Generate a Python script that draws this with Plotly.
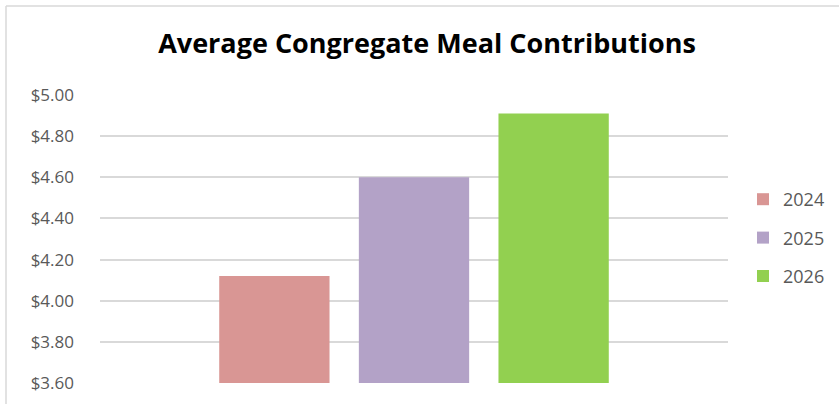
import plotly.graph_objects as go

title_text = "Average Congregate Meal Contributions"
years = ["2024", "2025", "2026"]
values = [4.12, 4.60, 4.91]
colors = ["#d99694", "#b3a2c7", "#92d050"]
tick_vals = [3.60, 3.80, 4.00, 4.20, 4.40, 4.60, 4.80, 5.00]
tick_text = ["$3.60", "$3.80", "$4.00", "$4.20", "$4.40", "$4.60", "$4.80", "$5.00"]

FONT = "Open Sans"

fig = go.Figure()
for yr, v, c in zip(years, values, colors):
    fig.add_trace(go.Bar(
        x=[""], y=[v], name=yr, marker=dict(color=c, line=dict(width=0)),
        legendgroup=yr,
    ))

W, H = 839, 404
L, R, T, B = 100, 111, 95, 21
pw, ph = W - L - R, H - T - B

def px_x(p):
    return (p - L) / pw

def px_y(p):
    return (H - B - p) / ph

fig.update_layout(
    width=W, height=H,
    margin=dict(l=L, r=R, t=T, b=B, autoexpand=False),
    paper_bgcolor="white", plot_bgcolor="white",
    barmode="group", bargap=0.333, bargroupgap=0.21,
    title=dict(text="<b>" + title_text + "</b>", x=427 / W, xanchor="center",
               y=1 - 44 / H, yanchor="middle",
               font=dict(family=FONT, size=27, color="black")),
    font=dict(family=FONT, color="#595959"),
    xaxis=dict(showticklabels=False, showgrid=False, zeroline=False,
               showline=False, fixedrange=True),
    yaxis=dict(range=[3.60, 5.00], tickvals=tick_vals, ticktext=tick_text,
               showgrid=True, gridcolor="#d9d9d9", gridwidth=1.5,
               zeroline=False, showline=False, fixedrange=True,
               tickfont=dict(family=FONT, size=17, color="#595959"),
               ticklabelstandoff=25),
    legend=dict(x=px_x(743), xanchor="left", y=px_y(238), yanchor="middle",
                font=dict(family=FONT, size=18, color="#595959"),
                tracegroupgap=12, itemwidth=30, bgcolor="rgba(0,0,0,0)"),
    showlegend=True,
    shapes=[
        dict(type="line", xref="paper", yref="paper",
             x0=px_x(6), x1=px_x(845), y0=px_y(6), y1=px_y(6),
             line=dict(color="#d9d9d9", width=1.5)),
        dict(type="line", xref="paper", yref="paper",
             x0=px_x(6), x1=px_x(6), y0=px_y(6), y1=px_y(410),
             line=dict(color="#d9d9d9", width=1.5)),
    ],
)

fig.write_html("out.html", config={"displayModeBar": False},
               post_script="document.body.style.margin='0px';document.body.style.overflow='hidden';")
